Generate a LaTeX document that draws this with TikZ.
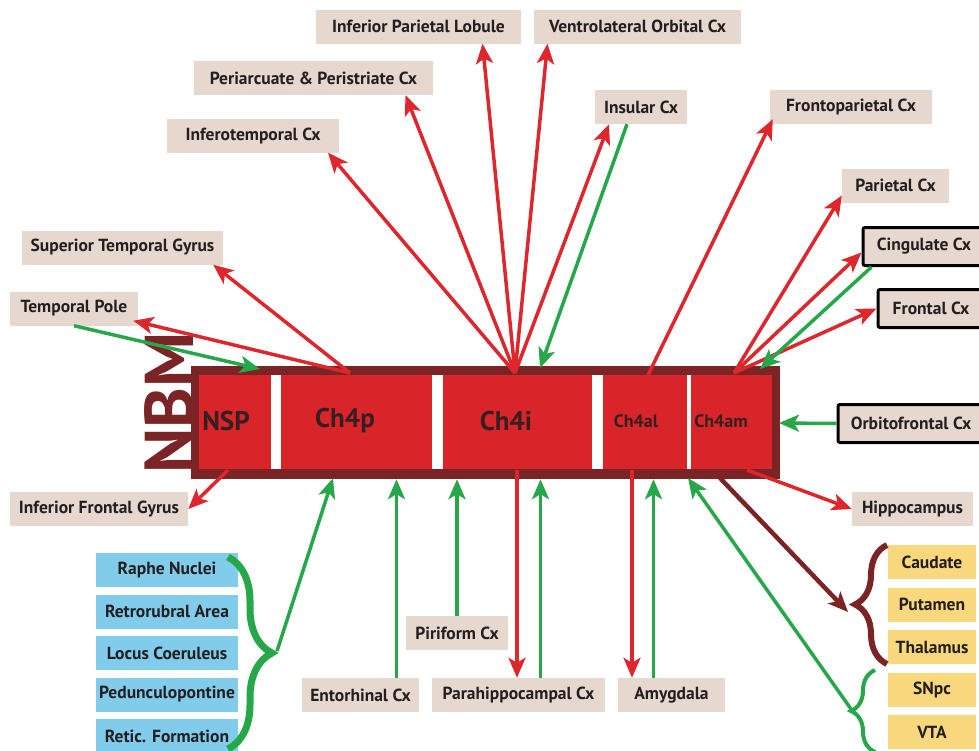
\documentclass[tikz,border=0pt]{standalone}
\usepackage{fontspec}
\setmainfont{PT Sans}
\usetikzlibrary{arrows.meta,positioning,decorations.pathreplacing}

\definecolor{nbmred}{RGB}{217,36,42}
\definecolor{nbmdark}{RGB}{122,36,38}
\definecolor{fibred}{RGB}{221,39,45}
\definecolor{fibgreen}{RGB}{38,168,74}
\definecolor{beige}{RGB}{230,215,207}
\definecolor{skyblue}{RGB}{128,204,234}
\definecolor{straw}{RGB}{249,215,124}
\definecolor{ink}{RGB}{35,31,32}

\tikzset{
  area/.style={fill=beige, text=ink, inner sep=0pt, minimum height=34pt,
    font=\fontsize{17.5}{19}\selectfont\bfseries},
  ringed/.style={area, draw=black, line width=3pt, rounded corners=2pt, minimum height=38pt},
  brainstem/.style={area, fill=skyblue, minimum width=142pt},
  basal/.style={area, fill=straw, minimum width=88pt},
  part/.style={text=ink!80!nbmdark, font=\fontsize{27}{29}\selectfont\bfseries},
  subpart/.style={part, font=\fontsize{18}{20}\selectfont\bfseries},
  fibre/.style={line width=3.5pt, -{Stealth[length=20pt,width=17pt,inset=5pt]}},
  efferent/.style={fibre, draw=fibred, fill=fibred},
  afferent/.style={fibre, draw=fibgreen, fill=fibgreen},
  striatal/.style={fibre, line width=4.5pt, draw=nbmdark, fill=nbmdark},
  bundle/.style={decorate, line width=7pt}
}

\begin{document}
\begin{tikzpicture}[x=1pt,y=-1pt]
\useasboundingbox (0,0) rectangle (979,750);
\clip (0,0) rectangle (979,750);

\node[fill=nbmdark, inner sep=0pt, minimum width=589pt, minimum height=113pt] (nbm) at (485.5,422.5) {};
\fill[nbmred] (199,375) rectangle (772,469);
\fill[white] (271,375) rectangle (281,469);
\fill[white] (432,375) rectangle (443,469);
\fill[white] (592,375) rectangle (603,469);
\fill[white] (687,375) rectangle (691,469);
\node[rotate=90, text=nbmdark, font=\fontsize{69}{69}\selectfont\bfseries] (nbmlbl) at (169,403) {NBM};
\node[part] (nsp) at (226,421) {NSP};
\node[part] (ch4p) at (345,421) {Ch4p};
\node[part] (ch4i) at (506,421) {Ch4i};
\node[subpart] (ch4al) at (636,421) {Ch4al};
\node[subpart] (ch4am) at (721,421) {Ch4am};

\node[area, minimum width=205pt] (ipl) at (418.5,26.5) {Inferior Parietal Lobule};
\node[area, minimum width=207pt] (vlo) at (637.5,26.5) {Ventrolateral Orbital Cx};
\node[area, minimum width=239pt] (pac) at (313.5,78) {Periarcuate \& Peristriate Cx};
\node[area, minimum width=92pt] (ins) at (641,107) {Insular Cx};
\node[area, minimum width=162pt] (fpc) at (851,107) {Frontoparietal Cx};
\node[area, minimum width=172pt] (itc) at (253,135.5) {Inferotemporal Cx};
\node[area, minimum width=107pt] (par) at (895.5,185.5) {Parietal Cx};
\node[ringed, minimum width=122pt] (cng) at (924,246.5) {Cingulate Cx};
\node[ringed, minimum width=106pt] (frc) at (931,308.5) {Frontal Cx};
\node[ringed, minimum width=146pt] (ofc) at (911,423.5) {Orbitofrontal Cx};
\node[area, minimum width=201pt] (stg) at (122.5,247.5) {Superior Temporal Gyrus};
\node[area, minimum width=128pt] (tpl) at (74,308.5) {Temporal Pole};
\node[area, minimum width=178pt] (ifg) at (99,509) {Inferior Frontal Gyrus};
\node[area, minimum width=121pt] (hip) at (912.5,509) {Hippocampus};
\node[area, minimum width=102pt] (pir) at (457,633) {Piriform Cx};
\node[area, minimum width=117pt] (ent) at (360.5,695) {Entorhinal Cx};
\node[area, minimum width=173pt] (phc) at (518.5,695) {Parahippocampal Cx};
\node[area, minimum width=107pt] (amy) at (671.5,695) {Amygdala};

\node[brainstem] (raphe) at (167,570) {Raphe Nuclei};
\node[brainstem] (rrf) at (167,611.5) {Retrorubral Area};
\node[brainstem] (lc) at (167,653) {Locus Coeruleus};
\node[brainstem] (ppn) at (167,694.5) {Pedunculopontine};
\node[brainstem] (rf) at (167,736) {Retic. Formation};
\node[basal] (cau) at (932,562) {Caudate};
\node[basal] (put) at (932,604.5) {Putamen};
\node[basal] (tha) at (932,647) {Thalamus};
\node[basal] (snpc) at (932,690) {SNpc};
\node[basal] (vta) at (932,732) {VTA};

\draw[bundle, fibgreen, decoration={brace, amplitude=44pt}] (228,557) -- (228,749);
\draw[bundle, nbmdark, line width=6pt, decoration={brace, amplitude=32pt}] (887,664) -- (887,545);
\draw[bundle, fibgreen, line width=4pt, decoration={brace, amplitude=24pt}] (875,752) -- (875,670);

\coordinate (pUp) at (350,373);
\coordinate (iUp) at (515,373);
\coordinate (alUp) at (648,375);
\coordinate (amUp) at (734,373);
\coordinate (tpIn) at (260,369);
\coordinate (insIn) at (540,368);
\coordinate (amIn) at (760,369);
\coordinate (amSide) at (779,423);
\coordinate (nspDown) at (228,470);
\coordinate (iDown) at (517,470);
\coordinate (alDown) at (632,470);
\coordinate (amLow) at (747,470);
\coordinate (amBot) at (720,478);
\coordinate (pIn) at (333,478);
\coordinate (amBack) at (688,478);
\coordinate (rsTip) at (277,651);
\coordinate (bgTip) at (848,612);
\coordinate (daTip) at (851,709);

\draw[efferent] (pUp) -- ([xshift=-10pt]stg.south east);
\draw[efferent] (pUp) -- ([xshift=-5pt,yshift=5pt]tpl.south east);
\draw[afferent] (tpl.south) -- (tpIn);
\draw[efferent] (iUp) -- ([xshift=75pt]itc.south);
\draw[efferent] (iUp) -- ([xshift=92pt]pac.south);
\draw[efferent] (iUp) -- ([xshift=64pt]ipl.south);
\draw[efferent] (iUp) -- ([xshift=-90pt]vlo.south);
\draw[efferent] (iUp) -- ([xshift=-32pt]ins.south);
\draw[afferent] ([xshift=-14pt]ins.south) -- (insIn);
\draw[efferent] (alUp) -- ([xshift=3pt,yshift=5pt]fpc.south west);
\draw[efferent] (amUp) -- ([yshift=-10pt]par.west);
\draw[efferent] (amUp) -- ([yshift=-6pt]cng.west);
\draw[efferent] (amUp) -- (frc.west);
\draw[afferent] ([xshift=10pt]cng.south west) -- (amIn);
\draw[afferent] (ofc.west) -- (amSide);
\draw[efferent] (amLow) -- (hip.west);
\draw[striatal] (amBot) -- (bgTip);
\draw[afferent] (daTip) -- (amBack);
\draw[efferent] (nspDown) -- (ifg.east);
\draw[afferent] (rsTip) -- (pIn);
\draw[afferent] ([xshift=36pt]ent.north) -- ([xshift=36pt]ent.north |- nbm.south);
\draw[afferent] (pir.north) -- (pir.north |- nbm.south);
\draw[efferent] (iDown) -- (iDown |- phc.north);
\draw[afferent] ([xshift=22pt]phc.north) -- ([xshift=22pt]phc.north |- nbm.south);
\draw[efferent] (alDown) -- (alDown |- amy.north);
\draw[afferent] ([xshift=-18pt]amy.north) -- ([xshift=-18pt]amy.north |- nbm.south);
\end{tikzpicture}
\end{document}
